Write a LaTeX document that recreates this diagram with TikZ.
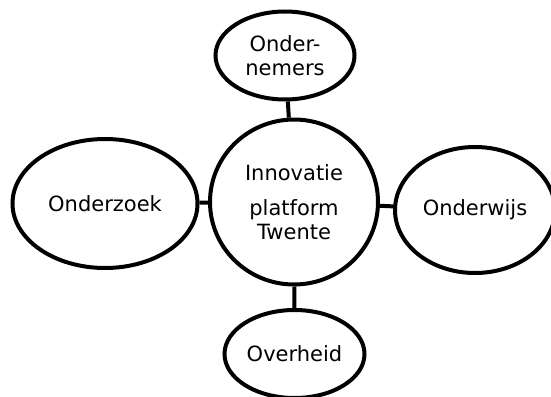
\documentclass[tikz,border=0pt]{standalone}
\usepackage{fontspec}
\setmainfont{DejaVu Sans}
\usetikzlibrary{shapes.geometric,calc}
\tikzset{
  bubble/.style={ellipse,draw,line width=4pt,inner sep=0pt,align=center,font=\fontsize{21}{24}\selectfont},
  linkLine/.style={line width=4pt},
}

\begin{document}
\begin{tikzpicture}[x=1pt,y=-1pt]
\useasboundingbox (0,0) rectangle (551,396);

% Bubble centres
\coordinate (Cmid) at (294,202);   % platform
\coordinate (Ctop) at (285,55.5);  % ondernemers
\coordinate (Cleft) at (105,203.5); % onderzoek
\coordinate (Cright) at (475,210); % onderwijs
\coordinate (Cbot) at (294.5,354); % overheid

% ===== Centre: the platform =====
\node[bubble, minimum width=168pt, minimum height=165pt] (platform) at (Cmid) {Innovatie\\[11pt]platform\\Twente};

% ===== Partners round it =====
\node[bubble, minimum width=139pt, minimum height=88pt] (ondernemers) at (Ctop) {Onder-\\nemers};
\node[bubble, minimum width=185pt, minimum height=129pt] (onderzoek) at (Cleft) {Onderzoek};
\node[bubble, minimum width=160pt, minimum height=126pt] (onderwijs) at (Cright) {Onderwijs};
\node[bubble, minimum width=140pt, minimum height=88pt] (overheid) at (Cbot) {Overheid};

% ===== Links =====
\foreach \p in {ondernemers,onderzoek,onderwijs,overheid} {\draw[linkLine] (\p) -- (platform);}

\end{tikzpicture}
\end{document}
